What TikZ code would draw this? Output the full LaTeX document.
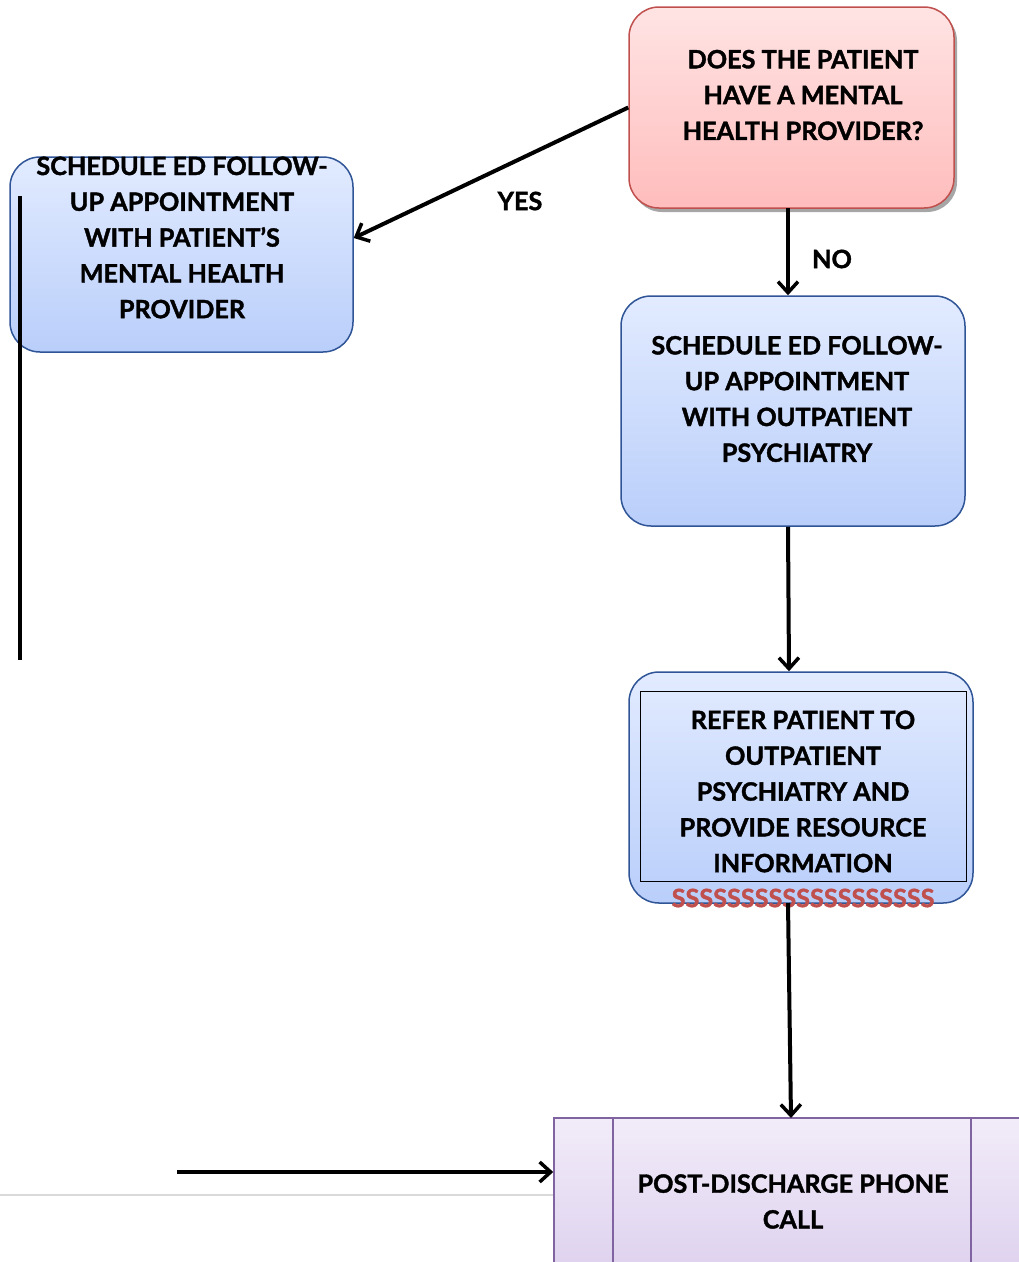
\documentclass[tikz,border=0pt]{standalone}
\usepackage{fontspec}
\setmainfont{Lato}[BoldFeatures={FakeBold=1.5}]
\usetikzlibrary{arrows.meta}
\definecolor{bluetop}{HTML}{E2EBFF}
\definecolor{bluebot}{HTML}{B9CEFA}
\definecolor{blueedge}{HTML}{2F5597}
\definecolor{redtop}{HTML}{FFE4E4}
\definecolor{redbot}{HTML}{FFBCBC}
\definecolor{rededge}{HTML}{C0504D}
\definecolor{purptop}{HTML}{F2ECF9}
\definecolor{purpbot}{HTML}{D9CBEC}
\definecolor{purpedge}{HTML}{8064A2}
\begin{document}
\begin{tikzpicture}[x=1pt,y=-1pt,
  bluebox/.style={draw=blueedge, line width=1.5pt, rounded corners=30pt, top color=bluetop, bottom color=bluebot, inner sep=0pt},
  redbox/.style={draw=rededge, line width=1.5pt, rounded corners=30pt, top color=redtop, bottom color=redbot, inner sep=0pt},
  purpbox/.style={draw=purpedge, line width=1.5pt, top color=purptop, bottom color=purpbot, inner sep=0pt},
  txt/.style={align=center, font=\fontsize{25.2}{35.8}\selectfont\bfseries, inner sep=0pt},
  lbl/.style={font=\fontsize{25.2}{30}\selectfont\bfseries, inner sep=0pt},
  arr/.style={line width=4pt, -{Straight Barb[length=11pt,width=20pt,line width=3.5pt]}},
  conn/.style={line width=4pt}]
\clip (0,0) rectangle (1019,1262);
\useasboundingbox (0,0) rectangle (1019,1262);
% shadow of decision box
\fill[black!35, rounded corners=30pt] (632,11) rectangle (957,212);
\node[redbox, minimum width=325pt, minimum height=201pt] (q) at (791.5,107.5) {};
\node[txt] (qt) at (803,95) {DOES THE PATIENT\\HAVE A MENTAL\\HEALTH PROVIDER?};
% left box
\node[bluebox, minimum width=343pt, minimum height=195pt] (left) at (181.5,254.5) {};
\node[txt] (leftt) at (182,237.5) {SCHEDULE ED FOLLOW-\\UP APPOINTMENT\\WITH PATIENT’S\\MENTAL HEALTH\\PROVIDER};
% box 2
\node[bluebox, minimum width=344pt, minimum height=230pt] (b2) at (793,411) {};
\node[txt] (b2t) at (797,399) {SCHEDULE ED FOLLOW-\\UP APPOINTMENT\\WITH OUTPATIENT\\PSYCHIATRY};
% box 3
\node[bluebox, minimum width=344pt, minimum height=231pt] (b3) at (801,787.5) {};
\node[draw=black, line width=0.8pt, minimum width=326pt, minimum height=190pt, inner sep=0pt] (b3in) at (803,786) {};
\node[txt] (b3t) at (803,791.5) {REFER PATIENT TO\\OUTPATIENT\\PSYCHIATRY AND\\PROVIDE RESOURCE\\INFORMATION};
\node[lbl, text=rededge] (ss) at (803,898) {SSSSSSSSSSSSSSSSSSS};
% bottom box
\node[purpbox, minimum width=480pt, minimum height=190pt] (b4) at (794,1213) {};
\coordinate (v1t) at (613,1118);
\coordinate (v1b) at (613,1262);
\coordinate (v2t) at (971,1118);
\coordinate (v2b) at (971,1262);
\draw[purpedge, line width=1.5pt] (v1t) -- (v1b);
\draw[purpedge, line width=1.5pt] (v2t) -- (v2b);
\node[txt] (b4t) at (793,1201.5) {POST-DISCHARGE PHONE\\CALL};
% grey line
\coordinate (g0) at (0,1195);
\draw[black!15, line width=1.2pt] (g0) -- (b4.west |- g0);
% left vertical line
\coordinate (vl1) at (20,196);
\coordinate (vl2) at (20,660);
\draw[conn] (vl1) -- (vl2);
% horizontal arrow
\coordinate (ha) at (177,1172);
\draw[arr] (ha) -- (b4.west |- ha);
% arrows
\draw[arr] (q.west) -- (left.east |- {(0,238)});
\node[lbl] (yes) at (520,201) {YES};
\draw[arr] (788,208) coordinate (n1) -- (b2.north -| n1);
\node[lbl] (no) at (832,259) {NO};
\draw[arr] (b2.south -| n1) -- (b3.north -| {(789,0)});
\coordinate (n3) at (788,903);
\coordinate (n4) at (791,1118);
\draw[arr] (n3) -- (n4);
\end{tikzpicture}
\end{document}
